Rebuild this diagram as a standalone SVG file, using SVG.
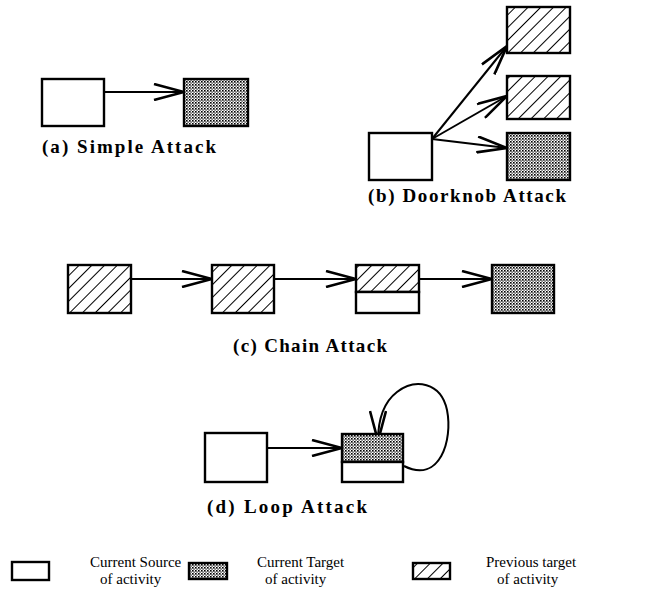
<svg xmlns="http://www.w3.org/2000/svg" width="665" height="593" viewBox="0 0 665 593">
<style>
.box{stroke:#000;stroke-width:2.4}
.src{fill:#fff}
.dot{fill:url(#dots)}
.hat{fill:url(#hatch)}
.edge{fill:none;stroke:#000;stroke-width:2;marker-end:url(#arr)}
.lbl{font-family:"Liberation Serif",serif;font-weight:bold;font-size:19px;fill:#000}
.leg{font-family:"Liberation Serif",serif;font-size:15px;fill:#000}
</style>
<defs>
<pattern id="dots" width="3" height="3" patternUnits="userSpaceOnUse">
<rect width="3" height="3" fill="#fff"/>
<rect width="1.6" height="1.6" fill="#000"/>
<rect x="1.5" y="1.5" width="1.2" height="1.2" fill="#000"/>
</pattern>
<pattern id="hatch" width="9" height="9" patternUnits="userSpaceOnUse" patternTransform="rotate(45)">
<rect width="9" height="9" fill="#fff"/>
<line x1="0" y1="0" x2="0" y2="9" stroke="#000" stroke-width="2"/>
</pattern>
<marker id="arr" markerUnits="userSpaceOnUse" viewBox="0 0 32 18" refX="31" refY="9" markerWidth="32" markerHeight="18" orient="auto">
<path d="M1,1 L31,9 L1,17" fill="none" stroke="#000" stroke-width="2.6"/>
</marker>
</defs>

<g id="connectors">
<line class="edge" x1="104" y1="92" x2="184" y2="92"/>
<line class="edge" x1="432" y1="139" x2="507" y2="46"/>
<line class="edge" x1="432" y1="139" x2="507" y2="96"/>
<line class="edge" x1="432" y1="139" x2="507" y2="148"/>
<line class="edge" x1="131" y1="279" x2="212" y2="279"/>
<line class="edge" x1="274" y1="279" x2="356" y2="279"/>
<line class="edge" x1="419" y1="279" x2="492" y2="279"/>
<line class="edge" x1="267" y1="448" x2="342" y2="448"/>
<path class="edge" d="M404,466 C 440,484 453,440 447,410 C 441,382 415,378 397,392 C 384,402 378,418 378,441"/>
</g>

<g id="a-source"><rect class="box src" x="42" y="79" width="62" height="47"/></g>
<g id="a-target"><rect class="box dot" x="184" y="79" width="64" height="47"/></g>
<text class="lbl" x="42" y="153" textLength="174" lengthAdjust="spacing">(a) Simple Attack</text>

<g id="b-source"><rect class="box src" x="369" y="133" width="63" height="47"/></g>
<g id="b-target1"><rect class="box hat" x="507" y="7" width="63" height="46"/></g>
<g id="b-target2"><rect class="box hat" x="507" y="76" width="63" height="43"/></g>
<g id="b-target3"><rect class="box dot" x="507" y="133" width="63" height="47"/></g>
<text class="lbl" x="368" y="202" textLength="198" lengthAdjust="spacing">(b) Doorknob Attack</text>

<g id="c-node1"><rect class="box hat" x="68" y="265" width="63" height="48"/></g>
<g id="c-node2"><rect class="box hat" x="212" y="265" width="62" height="48"/></g>
<g id="c-node3">
<rect class="box hat" x="356" y="265" width="63" height="27"/>
<rect class="box src" x="356" y="292" width="63" height="21"/>
</g>
<g id="c-node4"><rect class="box dot" x="492" y="265" width="62" height="48"/></g>
<text class="lbl" x="233" y="352" textLength="154" lengthAdjust="spacing">(c) Chain Attack</text>

<g id="d-source"><rect class="box src" x="205" y="433" width="62" height="49"/></g>
<g id="d-target">
<rect class="box dot" x="342" y="434" width="61" height="28"/>
<rect class="box src" x="342" y="462" width="61" height="20"/>
</g>
<text class="lbl" x="207" y="513" textLength="160" lengthAdjust="spacing">(d) Loop Attack</text>

<g id="legend">
<rect class="box src" x="12" y="562" width="37" height="18"/>
<text class="leg" x="90" y="567">Current Source</text>
<text class="leg" x="100" y="584">of activity</text>
<rect class="box dot" x="189" y="563" width="38" height="16"/>
<text class="leg" x="257" y="567">Current Target</text>
<text class="leg" x="265" y="584">of activity</text>
<rect class="box hat" x="413" y="563" width="37" height="16"/>
<text class="leg" x="486" y="567">Previous target</text>
<text class="leg" x="497" y="584">of activity</text>
</g>
</svg>
